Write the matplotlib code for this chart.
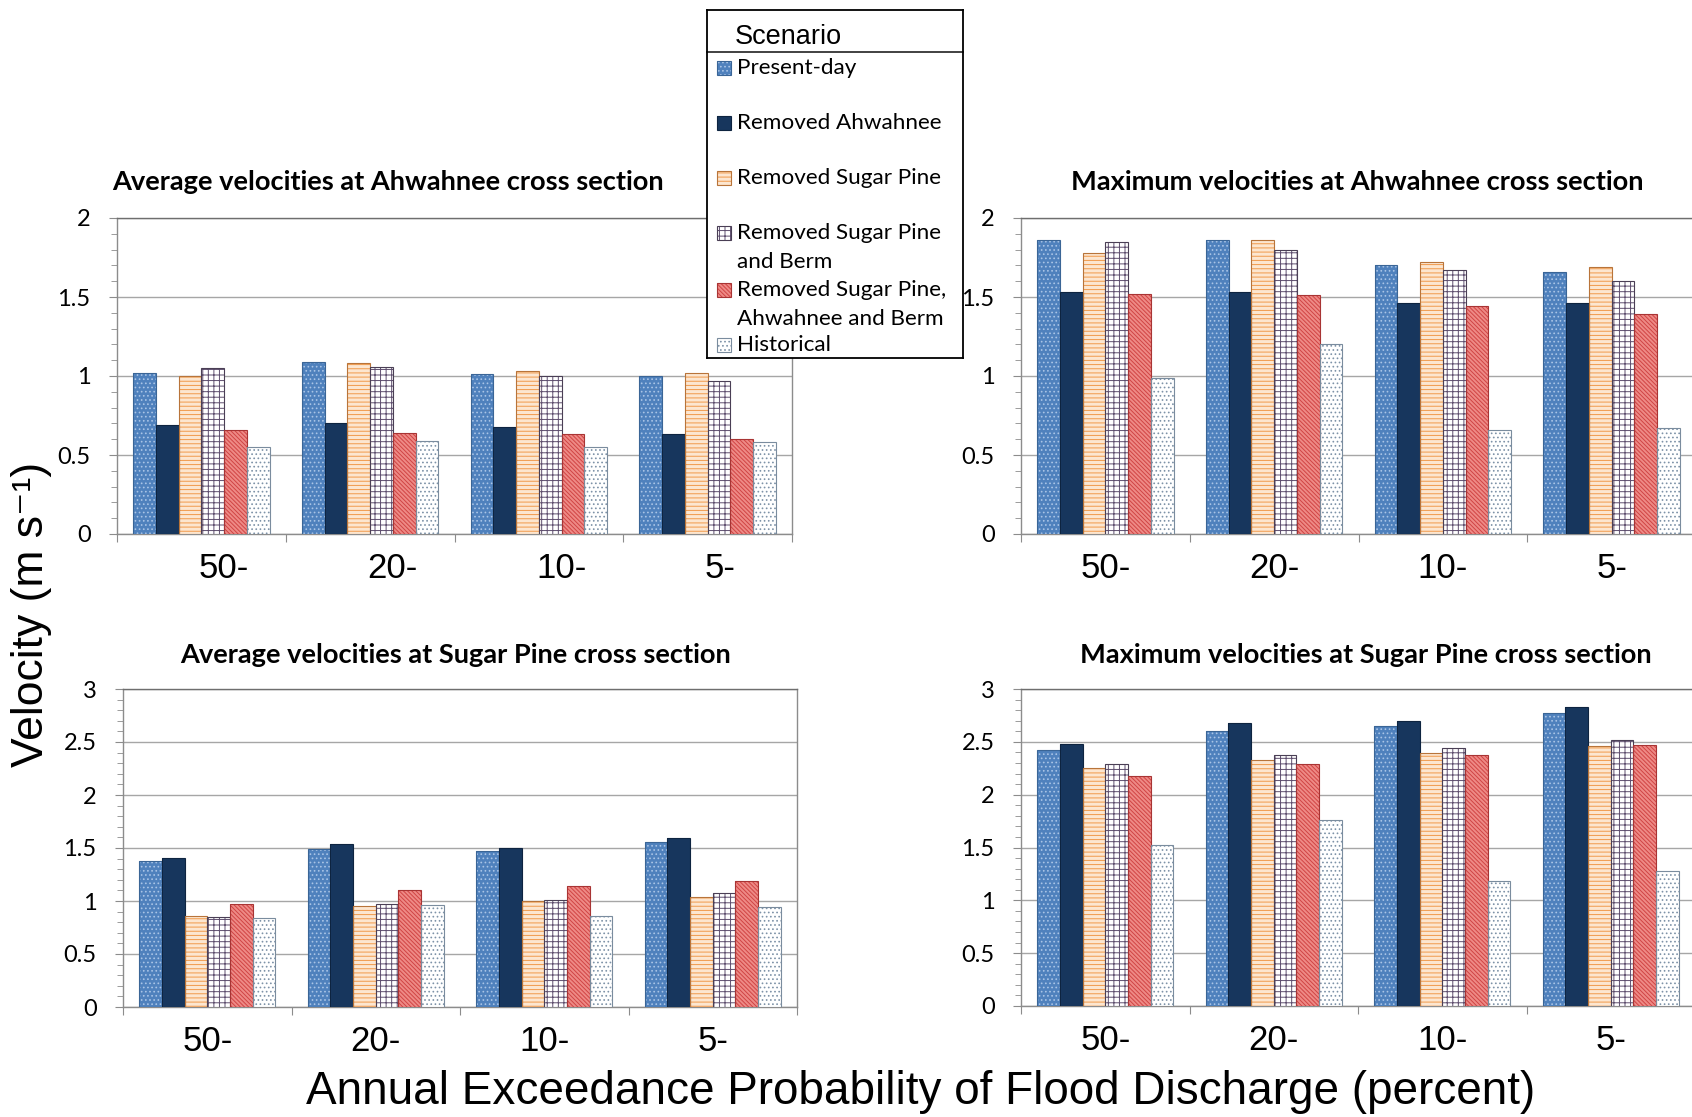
import numpy as np
import matplotlib
matplotlib.use("Agg")
import matplotlib.pyplot as plt
import matplotlib.transforms as mtransforms
from matplotlib.patches import Rectangle
from matplotlib.ticker import MultipleLocator, FormatStrFormatter

# --- data ---------------------------------------------------------------
categories = ["50-", "20-", "10-", "5-"]
scenarios = [
    "Present-day",
    "Removed Ahwahnee",
    "Removed Sugar Pine",
    "Removed Sugar Pine\nand Berm",
    "Removed Sugar Pine,\nAhwahnee and Berm",
    "Historical",
]

# rows = scenarios, columns = categories
avg_ahwahnee = [
    [1.02, 1.09, 1.01, 1.00],
    [0.69, 0.70, 0.68, 0.63],
    [1.00, 1.08, 1.03, 1.02],
    [1.05, 1.06, 1.00, 0.97],
    [0.66, 0.64, 0.63, 0.60],
    [0.55, 0.59, 0.55, 0.58],
]
max_ahwahnee = [
    [1.86, 1.86, 1.70, 1.66],
    [1.53, 1.53, 1.46, 1.46],
    [1.78, 1.86, 1.72, 1.69],
    [1.85, 1.80, 1.67, 1.60],
    [1.52, 1.51, 1.44, 1.39],
    [0.99, 1.20, 0.66, 0.67],
]
avg_sugar_pine = [
    [1.38, 1.49, 1.47, 1.56],
    [1.41, 1.54, 1.50, 1.59],
    [0.86, 0.95, 1.00, 1.04],
    [0.85, 0.97, 1.01, 1.08],
    [0.97, 1.10, 1.14, 1.19],
    [0.84, 0.96, 0.86, 0.94],
]
max_sugar_pine = [
    [2.42, 2.60, 2.65, 2.77],
    [2.48, 2.68, 2.70, 2.83],
    [2.25, 2.33, 2.39, 2.46],
    [2.29, 2.38, 2.44, 2.52],
    [2.18, 2.29, 2.38, 2.47],
    [1.52, 1.76, 1.18, 1.28],
]

# face, hatch colour, outline, hatch pattern for each scenario
styles = [
    ("#4F81BD", "#A9C4E6", "#3A6596", "...."),
    ("#17365D", "#17365D", "#0E2440", ""),
    ("#FCE6D0", "#F0994A", "#B8743A", "----"),
    ("#FFFFFF", "#5E4E6E", "#4A3F55", "+++"),
    ("#EE8A86", "#D04444", "#A83434", "\\\\\\\\\\\\\\\\"),
    ("#FFFFFF", "#7E93A8", "#7A8C9E", "...."),
]

W, H = 1692, 1117
plt.rcParams["hatch.linewidth"] = 0.7

fig = plt.figure(figsize=(W / 100, H / 100), dpi=100)


def px_rect(l, t, r, b):
    return [l / W, 1 - b / H, (r - l) / W, (b - t) / H]


def draw_panel(rect, values, ymax, title, title_xy, label_left=False):
    ax = fig.add_axes(px_rect(*rect))
    n = len(values)
    w = 0.81 / n
    centers = np.arange(len(categories)) + 0.5
    for i, (vals, (face, hcol, edge, hatch)) in enumerate(zip(values, styles)):
        x = centers + (i - (n - 1) / 2) * w
        ax.bar(x, vals, w, color=face, edgecolor=hcol, hatch=hatch,
               linewidth=0, zorder=3)
        ax.bar(x, vals, w, fill=False, edgecolor=edge, linewidth=0.8, zorder=4)

    ax.set_xlim(0, len(categories))
    ax.set_ylim(0, ymax)
    ax.yaxis.set_major_locator(MultipleLocator(0.5))
    ax.yaxis.set_minor_locator(MultipleLocator(0.1))
    ax.yaxis.set_major_formatter(FormatStrFormatter("%g"))
    ax.grid(axis="y", which="major", color="#A6A6A6", linewidth=1.0, zorder=0)
    ax.set_axisbelow(True)

    ax.set_xticks(np.arange(len(categories) + 1))
    ax.set_xticklabels([])
    ax.set_xticks(centers, categories, minor=True)
    ax.tick_params(axis="x", which="major", length=6, color="#8C8C8C", direction="out")
    ax.tick_params(axis="x", which="minor", length=0, pad=13,
                   labelsize=25)
    for lab in ax.get_xticklabels(minor=True):
        lab.set_fontfamily("Liberation Sans")
        if label_left:
            shift = mtransforms.ScaledTranslation(-3 / 100, 0, fig.dpi_scale_trans)
            lab.set_ha("left")
            lab.set_transform(lab.get_transform() + shift)

    ax.tick_params(axis="y", which="major", length=6, color="#8C8C8C",
                   labelsize=17, pad=13)
    ax.tick_params(axis="y", which="minor", length=4, color="#8C8C8C")
    for lab in ax.get_yticklabels():
        lab.set_fontfamily("Lato")

    for s in ax.spines.values():
        s.set_color("#8C8C8C")
        s.set_linewidth(1.0)
    ax.spines["top"].set_color("#6E6E6E")

    fig.text(title_xy[0] / W, 1 - title_xy[1] / H, title, ha="center",
             va="center", fontsize=19.6, fontweight="bold", family="Lato")
    return ax


draw_panel((117, 218, 792, 534), avg_ahwahnee, 2,
           "Average velocities at Ahwahnee cross section", (388, 182),
           label_left=True)
draw_panel((1021, 218, 1696, 534), max_ahwahnee, 2,
           "Maximum velocities at Ahwahnee cross section", (1357, 182))
draw_panel((123, 689, 797, 1007), avg_sugar_pine, 3,
           "Average velocities at Sugar Pine cross section", (456, 655))
draw_panel((1021, 689, 1695, 1006), max_sugar_pine, 3,
           "Maximum velocities at Sugar Pine cross section", (1366, 655))

# --- legend box ---------------------------------------------------------
lg = fig.add_axes(px_rect(707, 10, 963, 358), zorder=10)
lg.set_xlim(0, 256)
lg.set_ylim(348, 0)
lg.set_xticks([])
lg.set_yticks([])
for s in lg.spines.values():
    s.set_color("black")
    s.set_linewidth(1.3)
lg.text(28, 27, "Scenario", fontsize=19.5, family="Liberation Sans", va="center")
lg.plot([0, 256], [42, 42], color="#333333", lw=1.3, clip_on=False)

entry_y = [58, 113, 168, 223, 280, 335]
for label, yc, (face, hcol, edge, hatch) in zip(scenarios, entry_y, styles):
    lg.add_patch(Rectangle((10, yc - 7), 14, 14, facecolor=face, edgecolor=hcol,
                           hatch=hatch, linewidth=0))
    lg.add_patch(Rectangle((10, yc - 7), 14, 14, fill=False, edgecolor=edge,
                           linewidth=0.8))
    lines = label.split("\n")
    for k, line in enumerate(lines):
        lg.text(30, yc + k * 29, line, fontsize=16.2, family="Lato", va="center")

# --- shared axis titles ---------------------------------------------------
fig.text(32 / W, 1 - 614 / H, "Velocity (m s\u207b\u00b9)", rotation=90,
         ha="center", va="center", fontsize=32,
         family=["Liberation Sans", "DejaVu Sans"])
fig.text(921 / W, 1 - 1092 / H,
         "Annual Exceedance Probability of Flood Discharge (percent)",
         ha="center", va="center", fontsize=33, family="Liberation Sans")

fig.savefig("out.png", dpi=100)
